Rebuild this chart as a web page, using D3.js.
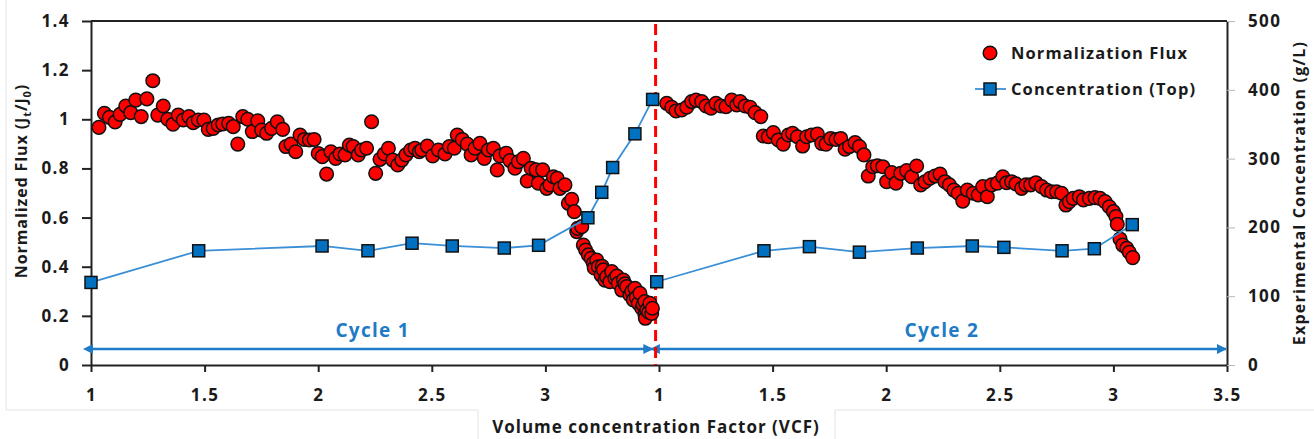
<!DOCTYPE html>
<html>
<head>
<meta charset="utf-8">
<script src="https://cdn.jsdelivr.net/npm/d3@7"></script>
<style>
  body { margin: 0; background: #fff; }
  text { font-family: "Open Sans", sans-serif; font-weight: 700; fill: #1a1a1a; }
</style>
</head>
<body>
<script>
// Normalized flux, cycle 1: [VCF, Jt/J0]
const cycle1Flux = [
  [1.035,0.967],[1.059,1.024],[1.081,1.008],[1.106,0.989],[1.128,1.020],[1.153,1.054],[1.175,1.027],
  [1.197,1.078],[1.221,1.011],[1.246,1.083],[1.272,1.157],[1.294,1.017],[1.318,1.054],[1.338,1.000],
  [1.361,0.980],[1.384,1.017],[1.406,0.997],[1.431,1.011],[1.450,0.986],[1.472,0.997],[1.497,0.997],
  [1.516,0.959],[1.538,0.963],[1.560,0.977],[1.580,0.981],[1.606,0.984],[1.626,0.970],[1.646,0.899],
  [1.668,1.011],[1.690,1.000],[1.710,0.950],[1.734,0.994],[1.751,0.956],[1.773,0.943],[1.795,0.963],
  [1.820,0.990],[1.844,0.959],[1.858,0.889],[1.880,0.899],[1.901,0.868],[1.920,0.936],[1.939,0.918],
  [1.961,0.916],[1.982,0.918],[2.000,0.861],[2.018,0.848],[2.037,0.777],[2.056,0.868],[2.077,0.841],
  [2.096,0.859],[2.118,0.855],[2.137,0.895],[2.154,0.889],[2.176,0.855],[2.191,0.875],[2.213,0.882],
  [2.235,0.990],[2.253,0.780],[2.272,0.837],[2.291,0.859],[2.309,0.882],[2.328,0.834],[2.350,0.814],
  [2.368,0.834],[2.386,0.855],[2.407,0.875],[2.426,0.882],[2.445,0.868],[2.456,0.875],[2.480,0.891],
  [2.504,0.851],[2.529,0.875],[2.558,0.859],[2.577,0.889],[2.599,0.882],[2.612,0.936],[2.634,0.918],
  [2.656,0.899],[2.673,0.855],[2.690,0.882],[2.712,0.902],[2.731,0.841],[2.749,0.875],[2.771,0.882],
  [2.788,0.794],[2.800,0.851],[2.827,0.862],[2.844,0.832],[2.866,0.801],[2.881,0.827],[2.903,0.841],
  [2.920,0.749],[2.937,0.801],[2.959,0.794],[2.969,0.740],[2.988,0.794],[3.006,0.719],[3.020,0.733],
  [3.035,0.766],[3.052,0.760],[3.064,0.719],[3.086,0.733],[3.101,0.658],[3.116,0.674],[3.127,0.624],
  [3.138,0.543],[3.142,0.556],[3.160,0.563],[3.167,0.488],[3.177,0.468],[3.189,0.448],[3.201,0.434],
  [3.211,0.414],[3.215,0.395],[3.226,0.427],[3.233,0.400],[3.245,0.366],[3.250,0.402],[3.255,0.387],
  [3.262,0.345],[3.270,0.359],[3.284,0.339],[3.292,0.380],[3.306,0.353],[3.315,0.362],[3.321,0.332],
  [3.336,0.305],[3.343,0.346],[3.350,0.330],[3.358,0.319],[3.372,0.285],[3.380,0.300],[3.387,0.265],
  [3.394,0.312],[3.400,0.275],[3.409,0.251],[3.416,0.292],[3.424,0.231],[3.430,0.245],[3.438,0.258],
  [3.438,0.204],[3.440,0.190],[3.446,0.224],[3.455,0.215],[3.460,0.251],[3.468,0.210],[3.471,0.231]
];

// Normalized flux, cycle 2: [VCF, Jt/J0]
const cycle2Flux = [
  [1.034,1.065],[1.056,1.049],[1.075,1.034],[1.100,1.038],[1.122,1.049],[1.144,1.072],[1.163,1.078],
  [1.188,1.072],[1.207,1.054],[1.229,1.045],[1.251,1.065],[1.273,1.054],[1.295,1.051],[1.320,1.078],
  [1.342,1.058],[1.357,1.072],[1.379,1.054],[1.401,1.049],[1.423,1.027],[1.448,1.011],[1.459,0.932],
  [1.481,0.929],[1.503,0.946],[1.525,0.916],[1.547,0.899],[1.569,0.936],[1.588,0.943],[1.609,0.929],
  [1.632,0.891],[1.650,0.929],[1.672,0.936],[1.697,0.940],[1.716,0.902],[1.735,0.899],[1.756,0.922],
  [1.779,0.918],[1.800,0.922],[1.819,0.878],[1.838,0.889],[1.863,0.905],[1.882,0.889],[1.902,0.855],
  [1.921,0.769],[1.941,0.807],[1.961,0.811],[1.985,0.807],[2.002,0.746],[2.024,0.783],[2.043,0.740],
  [2.064,0.780],[2.090,0.791],[2.112,0.766],[2.134,0.810],[2.152,0.733],[2.171,0.746],[2.193,0.760],
  [2.215,0.769],[2.237,0.777],[2.259,0.746],[2.278,0.733],[2.298,0.712],[2.317,0.699],[2.337,0.667],
  [2.357,0.712],[2.383,0.699],[2.405,0.692],[2.425,0.726],[2.445,0.685],[2.464,0.733],[2.489,0.740],
  [2.513,0.766],[2.530,0.742],[2.552,0.746],[2.571,0.737],[2.596,0.719],[2.615,0.733],[2.636,0.733],
  [2.659,0.742],[2.684,0.726],[2.706,0.712],[2.728,0.705],[2.750,0.705],[2.772,0.699],[2.791,0.651],
  [2.806,0.665],[2.823,0.678],[2.850,0.685],[2.868,0.672],[2.894,0.678],[2.919,0.681],[2.941,0.678],
  [2.963,0.665],[2.982,0.644],[3.000,0.624],[3.011,0.604],[3.017,0.573],[3.029,0.513],[3.041,0.488],
  [3.059,0.475],[3.070,0.459],[3.085,0.437]
];

// Experimental concentration (top), g/L: [VCF, value]
const cycle1Conc = [
  [1.000,120],[1.474,166],[2.017,173],[2.219,166],[2.413,177],[2.590,173],[2.819,170],
  [2.970,174],[3.187,214],[3.248,251],[3.296,287],[3.394,336],[3.472,386]
];
const cycle2Conc = [
  [0.990,121],[1.462,166],[1.662,172],[1.882,164],[2.137,170],[2.379,173],[2.518,171],
  [2.774,166],[2.916,169],[3.083,204]
];

// x axis: cycle 2 is drawn shifted by cycleOffset on a shared scale
const cycleOffset = 2.5;
const cycleBreak = 3.485;
const xTickValues = [1, 1.5, 2, 2.5, 3, 3.5, 4, 4.5, 5, 5.5, 6];
const xTickLabels = ["1", "1.5", "2", "2.5", "3", "1", "1.5", "2", "2.5", "3", "3.5"];
const yLeftTicks = [0, 0.2, 0.4, 0.6, 0.8, 1, 1.2, 1.4];
const yRightTicks = [0, 100, 200, 300, 400, 500];
const cycleNames = ["Cycle 1", "Cycle 2"];

const W = 1314, H = 439;
const margin = { top: 21, right: 87, bottom: 74, left: 91 };
const innerW = W - margin.left - margin.right;
const innerH = H - margin.top - margin.bottom;

const svg = d3.select("body").append("svg")
  .attr("width", W)
  .attr("height", H);

// faint outer frame around the chart and the axis title box
svg.append("path")
  .attr("d", "M6,0 V410 H478 V439 M835,439 V410 H1314")
  .attr("fill", "none")
  .attr("stroke", "#e3e3e3")
  .attr("stroke-width", 1);

const g = svg.append("g")
  .attr("transform", `translate(${margin.left},${margin.top})`);

const x = d3.scaleLinear().domain([1, 6]).range([0, innerW]);
const yL = d3.scaleLinear().domain([0, 1.4]).range([innerH, 0]);
const yR = d3.scaleLinear().domain([0, 500]).range([innerH, 0]);

// top border of plot area
g.append("line")
  .attr("x1", 0).attr("x2", innerW)
  .attr("y1", 0).attr("y2", 0)
  .attr("stroke", "#222").attr("stroke-width", 2);

// Axes
const xAxis = g.append("g")
  .attr("transform", `translate(0,${innerH})`)
  .call(d3.axisBottom(x)
    .tickValues(xTickValues)
    .tickFormat((d, i) => xTickLabels[i])
    .tickSize(7)
    .tickSizeOuter(0));
xAxis.selectAll("text").attr("y", 36).attr("dy", 0);

const yAxisL = g.append("g")
  .call(d3.axisLeft(yL)
    .tickValues(yLeftTicks)
    .tickFormat(d => d === 0 || d === 1 ? String(d) : d3.format(".1f")(d))
    .tickSize(9)
    .tickPadding(12)
    .tickSizeOuter(0));

const yAxisR = g.append("g")
  .attr("transform", `translate(${innerW},0)`)
  .call(d3.axisRight(yR)
    .tickValues(yRightTicks)
    .tickSize(8)
    .tickPadding(13)
    .tickSizeOuter(0));
yAxisR.selectAll(".tick line").attr("stroke", "#b8b8b8");

[xAxis, yAxisL, yAxisR].forEach(a => {
  a.select(".domain").attr("stroke", "#222").attr("stroke-width", 2);
  a.selectAll("text")
    .attr("fill", "#1a1a1a")
    .style("font-size", "17px")
    .style("letter-spacing", "1.4px");
});
xAxis.selectAll(".tick line").attr("stroke", "#222").attr("stroke-width", 2);
yAxisL.selectAll(".tick line").attr("stroke", "#222").attr("stroke-width", 2);

// Cycle arrows
const defs = svg.append("defs");
["start", "end"].forEach(k => {
  defs.append("marker")
    .attr("id", "arrow-" + k)
    .attr("viewBox", "0 0 10 10")
    .attr("refX", k === "end" ? 9 : 1).attr("refY", 5)
    .attr("markerWidth", 4).attr("markerHeight", 4)
    .attr("orient", "auto-start-reverse")
    .append("path")
    .attr("d", "M0,0 L10,5 L0,10 z")
    .attr("fill", "#1f7bc6");
});

const cycleSpans = [[1, cycleBreak - 0.01], [cycleBreak + 0.01, 6]];
const arrowY = 0.065, labelY = 0.142;

g.selectAll(".cycle-arrow")
  .data(cycleSpans)
  .enter().append("line")
  .attr("class", "cycle-arrow")
  .attr("x1", d => x(d[0]) + 1)
  .attr("x2", d => x(d[1]) - 1)
  .attr("y1", yL(arrowY)).attr("y2", yL(arrowY))
  .attr("stroke", "#1f7bc6")
  .attr("stroke-width", 2.5)
  .attr("marker-start", "url(#arrow-start)")
  .attr("marker-end", "url(#arrow-end)");

g.selectAll(".cycle-label")
  .data(cycleNames)
  .enter().append("text")
  .attr("class", "cycle-label")
  .attr("x", (d, i) => i === 0 ? x(2.24) : x(4.745))
  .attr("y", yL(labelY))
  .attr("dy", "0.35em")
  .attr("text-anchor", "middle")
  .style("font-size", "19px")
  .style("letter-spacing", "1.3px")
  .style("fill", "#1f7bc6")
  .text(d => d);

// red dashed divider between cycles
g.append("line")
  .attr("x1", x(cycleBreak)).attr("x2", x(cycleBreak))
  .attr("y1", 3).attr("y2", innerH)
  .attr("stroke", "#ff0000")
  .attr("stroke-width", 3)
  .attr("stroke-dasharray", "11,6");

// Flux circles
const fluxPoints = cycle1Flux.map(d => [d[0], d[1]])
  .concat(cycle2Flux.map(d => [d[0] + cycleOffset, d[1]]));

g.selectAll(".flux")
  .data(fluxPoints)
  .enter().append("circle")
  .attr("class", "flux")
  .attr("cx", d => x(d[0]))
  .attr("cy", d => yL(d[1]))
  .attr("r", 6.8)
  .attr("fill", "#ff0000")
  .attr("stroke", "#111")
  .attr("stroke-width", 1.5);

// Concentration lines + squares
const concSeries = [
  cycle1Conc.map(d => [d[0], d[1]]),
  cycle2Conc.map(d => [d[0] + cycleOffset, d[1]])
];
const line = d3.line().x(d => x(d[0])).y(d => yR(d[1]));

g.selectAll(".conc-line")
  .data(concSeries)
  .enter().append("path")
  .attr("class", "conc-line")
  .attr("d", line)
  .attr("fill", "none")
  .attr("stroke", "#3a8fd6")
  .attr("stroke-width", 1.8);

const sq = 12;
g.selectAll(".conc")
  .data(concSeries.flat())
  .enter().append("rect")
  .attr("class", "conc")
  .attr("x", d => x(d[0]) - sq / 2)
  .attr("y", d => yR(d[1]) - sq / 2)
  .attr("width", sq).attr("height", sq)
  .attr("fill", "#0070c0")
  .attr("stroke", "#111")
  .attr("stroke-width", 1.5);

// Legend
const legend = svg.append("g").attr("transform", "translate(990,53)");
legend.append("circle")
  .attr("r", 6.8).attr("fill", "#ff0000")
  .attr("stroke", "#111").attr("stroke-width", 1.5);
legend.append("text")
  .attr("x", 21).attr("dy", "0.35em")
  .style("font-size", "16.5px")
  .style("letter-spacing", "1.1px")
  .text("Normalization Flux");
legend.append("line")
  .attr("x1", -15).attr("x2", 16).attr("y1", 36).attr("y2", 36)
  .attr("stroke", "#3a8fd6").attr("stroke-width", 1.8);
legend.append("rect")
  .attr("x", -sq / 2).attr("y", 36 - sq / 2)
  .attr("width", sq).attr("height", sq)
  .attr("fill", "#0070c0").attr("stroke", "#111").attr("stroke-width", 1.5);
legend.append("text")
  .attr("x", 21).attr("y", 36).attr("dy", "0.35em")
  .style("font-size", "16.5px")
  .style("letter-spacing", "1.1px")
  .text("Concentration (Top)");

// Axis titles
svg.append("text")
  .attr("x", 656).attr("y", 433)
  .attr("text-anchor", "middle")
  .style("font-size", "17px")
  .style("letter-spacing", "1px")
  .text("Volume concentration Factor (VCF)");

const yTitle = svg.append("text")
  .attr("transform", "translate(27,181) rotate(-90)")
  .attr("text-anchor", "middle")
  .style("font-size", "16px")
  .style("letter-spacing", "0.9px");
yTitle.append("tspan").text("Normalized Flux (J");
yTitle.append("tspan").attr("dy", 4).style("font-size", "11px").text("t");
yTitle.append("tspan").attr("dy", -4).text("/J");
yTitle.append("tspan").attr("dy", 4).style("font-size", "11px").text("0");
yTitle.append("tspan").attr("dy", -4).text(")");

svg.append("text")
  .attr("transform", "translate(1305,193) rotate(-90)")
  .attr("text-anchor", "middle")
  .style("font-size", "16px")
  .style("letter-spacing", "1.2px")
  .text("Experimental Concentration (g/L)");
</script>
</body>
</html>
